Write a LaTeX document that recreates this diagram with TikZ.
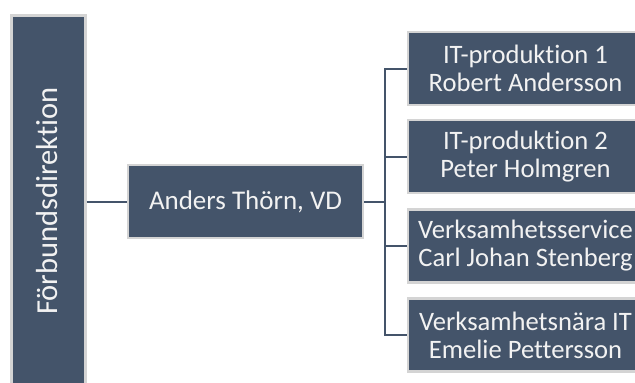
\documentclass[tikz,border=0pt]{standalone}
\usepackage{fontspec}
\setmainfont{Carlito}[RawFeature={-liga;-clig}]
\definecolor{boxfill}{HTML}{44546A}
\definecolor{boxedge}{HTML}{D4D4D4}
\definecolor{boxtext}{HTML}{F2F2F2}
\begin{document}
\begin{tikzpicture}[x=1pt,y=-1pt,
  orgbox/.style={rectangle,fill=boxfill,draw=boxedge,line width=2.5pt,
    text=boxtext,font=\fontsize{26.6}{28}\selectfont,align=center,
    minimum height=73pt,inner sep=0pt},
  link/.style={draw=boxfill,line width=2pt}]
\useasboundingbox (0,0) rectangle (635,383);
\clip (0,0) rectangle (635,383);
\node[orgbox,minimum width=74pt,minimum height=400pt,anchor=north west] (fd) at (10,14) {};
\node[rotate=90,text=boxtext,font=\fontsize{30.5}{32}\selectfont] (fdtext) at (47,201) {Förbundsdirektion};
\node[orgbox,minimum width=235pt,font=\fontsize{27}{28}\selectfont] (vd) at (245.5,201.5) {Anders Thörn, VD};
\node[orgbox,minimum width=235pt] (r1) at (525.5,68.5) {IT-produktion 1\\Robert Andersson};
\node[orgbox,minimum width=235pt] (r2) at (525.5,156.5) {IT-produktion 2\\Peter Holmgren};
\node[orgbox,minimum width=235pt] (r3) at (525.5,246) {Verksamhetsservice\\Carl Johan Stenberg};
\node[orgbox,minimum width=235pt] (r4) at (525.5,335) {Verksamhetsnära IT\\Emelie Pettersson};
\coordinate (bus) at (385,201.5);
\draw[link] (fd.east |- vd.west) -- (vd.west);
\draw[link] (vd.east) -- (bus);
\draw[link] (r1.west) -| (bus |- r4.west) -- (r4.west);
\draw[link] (r2.west) -- (bus |- r2.west);
\draw[link] (r3.west) -- (bus |- r3.west);
\end{tikzpicture}
\end{document}
